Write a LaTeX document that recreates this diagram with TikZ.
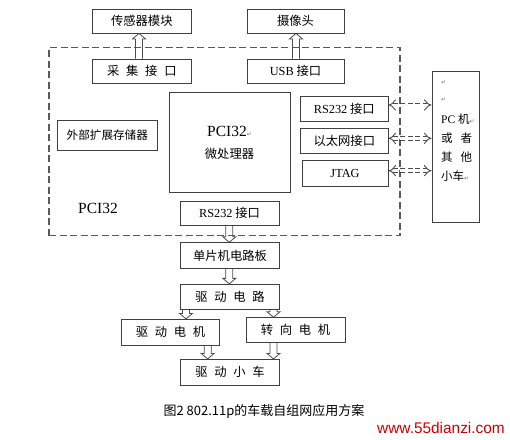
\documentclass[tikz,border=0pt]{standalone}
\usepackage{fontspec}
\setmainfont{Liberation Serif}
\newfontfamily\cjk{Noto Sans CJK SC}
\newfontfamily\symf{DejaVu Sans}
\newfontfamily\wmfont{Liberation Sans}
\usetikzlibrary{arrows.meta,calc}
\newcommand\retm{{\symf\fontsize{6}{6}\selectfont\color{black!55}↵}}
\newcommand\gp{\hspace{0.55em}}
\newcommand\harr[4]{\draw[harrow] let \p1=(#2), \p2=(#3) in
 ({#1pt-3.5pt},\y1) -- ({#1pt-3.5pt},{\y2-(#4)*5.5pt}) -- ({#1pt-6.5pt},{\y2-(#4)*5.5pt}) -- (#1pt,\y2)
 -- ({#1pt+6.5pt},{\y2-(#4)*5.5pt}) -- ({#1pt+3.5pt},{\y2-(#4)*5.5pt}) -- ({#1pt+3.5pt},\y1);}
\tikzset{
 box/.style={draw=black!75, line width=0.9pt, inner sep=0pt, font=\cjk\fontsize{12.3}{14}\selectfont},
 txt/.style={inner sep=0pt, font=\cjk\fontsize{12.3}{14}\selectfont},
 ptxt/.style={inner sep=0pt, anchor=west, font=\cjk\fontsize{11.5}{13}\selectfont},
 frame/.style={draw=black!65, line width=1.3pt, dash pattern=on 7pt off 3.5pt, inner sep=0pt},
 harrow/.style={draw=black!70, line width=0.8pt},
 darrow/.style={draw=black!70, line width=0.9pt, dash pattern=on 5pt off 2.5pt, double, double distance=3pt, {Implies}-{Implies}}
}
\begin{document}
\begin{tikzpicture}[x=1pt,y=-1pt]
\useasboundingbox (0,0) rectangle (510,439);
% dashed frame
\node[frame, minimum width=351, minimum height=188] (frame) at (224.5,141.7) {};
% top boxes
\node[box, minimum width=98.3, minimum height=24] (sensor) at (141.8,21) {传感器模块};
\node[box, minimum width=97, minimum height=24] (cam) at (295.5,21) {摄像头};
\node[box, minimum width=98.3, minimum height=24] (cj) at (141.8,71) {采\gp 集\gp 接\gp 口};
\node[box, minimum width=97, minimum height=24] (usb) at (295.5,71) {{\rmfamily USB} 接口};
% inside frame
\node[box, minimum width=99.3, minimum height=29.3, font=\cjk\fontsize{11.6}{13}\selectfont] (mem) at (107.3,135.3) {外部扩展存储器};
\node[box, minimum width=121, minimum height=100] (cpu) at (229.5,142.3) {};
\node[txt] (cpuA) at (229.5,131.7) {{\rmfamily\fontsize{15.5}{15.5}\selectfont PCI32}\retm};
\node[txt] (cpuB) at (229.5,154) {微处理器};
\node[box, minimum width=99, minimum height=24.7] (rsB) at (229.5,213.3) {{\rmfamily RS232} 接口};
\node[txt, font=\rmfamily\fontsize{15.5}{15.5}\selectfont] (pcilbl) at (98,208) {PCI32};
\node[box, minimum width=87.3, minimum height=25.7] (rsR) at (344.3,108.8) {{\rmfamily RS232} 接口};
\node[box, minimum width=87.3, minimum height=25] (eth) at (344.3,140.5) {以太网接口};
\node[box, minimum width=86, minimum height=26] (jtag) at (345,173.7) {\rmfamily JTAG};
% PC box
\node[box, minimum width=47, minimum height=151.7] (pc) at (455.5,146.8) {};
\node[ptxt] (p1) at (441,83) {\retm};
\node[ptxt] (p2) at (441,100) {\retm};
\node[ptxt] (p3) at (441,119) {{\rmfamily PC }机\retm};
\node[ptxt] (p4) at (441,138) {或\hspace{0.7em}者};
\node[ptxt] (p5) at (441,157) {其\hspace{0.7em}他};
\node[ptxt] (p6) at (441,176) {小车\retm};
% lower chain
\node[box, minimum width=98.6, minimum height=25.6] (mcu) at (230,255.5) {单片机电路板};
\node[box, minimum width=98.6, minimum height=25] (drv) at (230,296.8) {驱\gp 动\gp 电\gp 路};
\node[box, minimum width=97.6, minimum height=25.7] (dm) at (170.5,332.2) {驱\gp 动\gp 电\gp 机};
\node[box, minimum width=99, minimum height=25] (sm) at (295.5,330.2) {转\gp 向\gp 电\gp 机};
\node[box, minimum width=98.6, minimum height=25.7] (car) at (230,372.2) {驱\gp 动\gp 小\gp 车};
% hollow arrows
\harr{139}{cj.north}{sensor.south}{1}
\harr{296}{usb.north}{cam.south}{1}
\harr{229.3}{rsB.south}{mcu.north}{-1}
\harr{229.3}{mcu.south}{drv.north}{-1}
\harr{186}{drv.south}{dm.north}{-1}
\harr{273.5}{drv.south}{sm.north}{-1}
\harr{207.7}{dm.south}{car.north}{-1}
\harr{273.5}{sm.south}{car.north}{-1}
% dashed double arrows
\coordinate (ya) at (0,105);
\coordinate (yb) at (0,138.3);
\coordinate (yc) at (0,170.7);
\draw[darrow] (rsR.east |- ya) -- (pc.west |- ya);
\draw[darrow] (eth.east |- yb) -- (pc.west |- yb);
\draw[darrow] (jtag.east |- yc) -- (pc.west |- yc);
% caption
\node[txt, font=\cjk\fontsize{13}{13}\selectfont] (cap) at (264,411.7) {图2 802.11p的车载自组网应用方案};
\node[txt, font=\wmfont\fontsize{15.4}{15.4}\selectfont, text=red!80!black] (wm) at (441,428.3) {www.55dianzi.com};
\end{tikzpicture}
\end{document}
